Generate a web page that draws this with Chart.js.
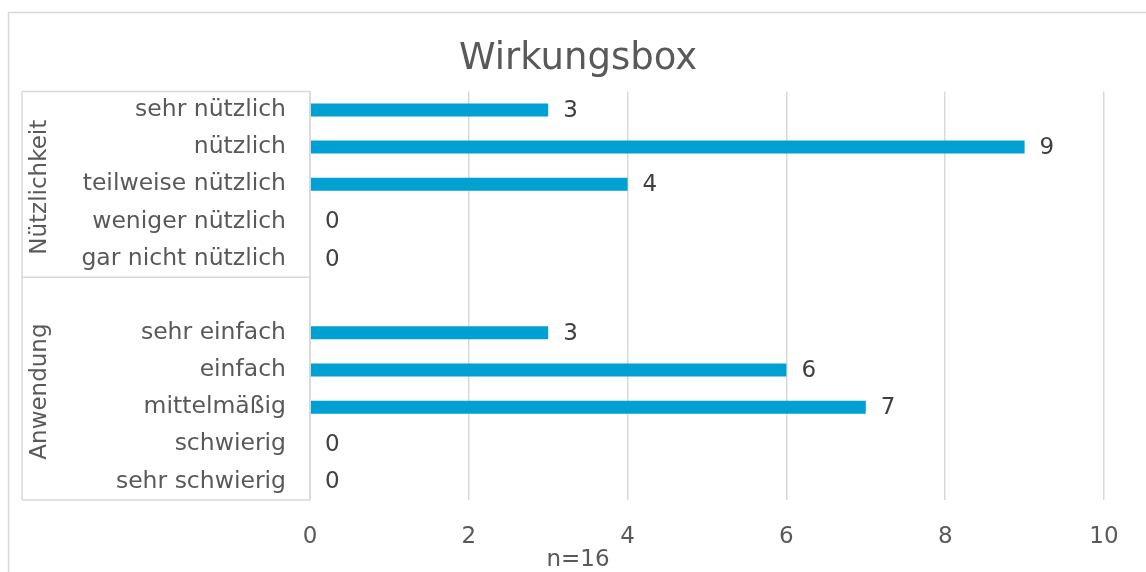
<!DOCTYPE html>
<html lang="de">
<head>
  <meta charset="UTF-8" />
  <title>Wirkungsbox</title>
  <script src="https://cdn.jsdelivr.net/npm/chart.js"></script>
  <style>
    html, body { margin: 0; padding: 0; background: #fff; }
    #wrap { width: 1146px; height: 572px; position: relative; }
  </style>
</head>
<body>
  <div id="wrap"><canvas id="chart" width="1146" height="572"></canvas></div>
  <script>
    // categories (blank entry = gap between the two groups)
    const categories = [
      "sehr nützlich", "nützlich", "teilweise nützlich", "weniger nützlich", "gar nicht nützlich",
      "",
      "sehr einfach", "einfach", "mittelmäßig", "schwierig", "sehr schwierig"
    ];
    const counts = [3, 9, 4, 0, 0, null, 3, 6, 7, 0, 0];
    const groups = [
      { name: "Nützlichkeit", from: 0, to: 4 },
      { name: "Anwendung", from: 5, to: 10 }
    ];
    const xTicks = [0, 2, 4, 6, 8, 10];

    const FONT = "'DejaVu Sans', Verdana, sans-serif";
    const GRID = "#d9d9d9";
    const TEXT = "#595959";
    const SIZE = 23;

    // outer frame, group boxes, rotated group names, value labels
    const frame = {
      id: "frame",
      afterLayout(chart) {
        // centre title and note on the whole frame, not on the padded area
        chart.boxes.forEach(b => {
          if (b.options && b.options.text !== undefined && b.position !== "left") {
            b.left = 10; b.right = chart.width; b.width = chart.width - 10;
          }
        });
      },
      beforeDraw(chart) {
        const c = chart.ctx;
        c.save();
        c.strokeStyle = GRID;
        c.lineWidth = 1.5;
        c.strokeRect(8.5, 12.5, 1300, 700);
        c.restore();
      },
      afterDraw(chart) {
        const c = chart.ctx, y = chart.scales.y, area = chart.chartArea;
        const left = 22, right = area.left;
        const mid = i => (y.getPixelForValue(i) + y.getPixelForValue(i - 1)) / 2;
        c.save();
        c.strokeStyle = GRID;
        c.lineWidth = 1.5;
        c.beginPath();
        c.moveTo(left, area.top); c.lineTo(right, area.top);
        c.moveTo(left, area.bottom); c.lineTo(right, area.bottom);
        c.moveTo(left, area.top); c.lineTo(left, area.bottom);
        c.moveTo(right, area.top); c.lineTo(right, area.bottom);
        groups.forEach((g, i) => {
          if (i === 0) return;
          c.moveTo(left, mid(g.from)); c.lineTo(right, mid(g.from));
        });
        c.stroke();

        c.fillStyle = TEXT;
        c.font = SIZE + "px " + FONT;
        c.textAlign = "center";
        c.textBaseline = "middle";
        groups.forEach((g, i) => {
          const top = i === 0 ? area.top : mid(g.from);
          const bot = i === groups.length - 1 ? area.bottom : mid(g.to + 1);
          c.save();
          c.translate(40, (top + bot) / 2 + 3);
          c.rotate(-Math.PI / 2);
          c.fillText(g.name, 0, 0);
          c.restore();
        });

        c.fillStyle = "#404040";
        c.textAlign = "left";
        chart.getDatasetMeta(0).data.forEach((bar, i) => {
          if (counts[i] === null) return;
          c.fillText(String(counts[i]), bar.x + 15, bar.y + 1);
        });
        c.restore();
      }
    };

    new Chart(document.getElementById("chart"), {
      type: "bar",
      data: {
        labels: categories,
        datasets: [{
          data: counts,
          backgroundColor: "#00a0d2",
          barPercentage: 0.35,
          categoryPercentage: 1
        }]
      },
      options: {
        indexAxis: "y",
        responsive: false,
        animation: false,
        layout: { padding: { left: 0, right: 42, top: 0, bottom: 0 } },
        plugins: {
          legend: { display: false },
          tooltip: { enabled: false },
          title: {
            display: true,
            text: "Wirkungsbox",
            color: TEXT,
            font: { family: FONT, size: 37, weight: "normal", lineHeight: 1.2 },
            padding: { top: 37, bottom: 10 }
          },
          subtitle: {
            display: true,
            position: "bottom",
            text: "n=16",
            color: TEXT,
            font: { family: FONT, size: SIZE, weight: "normal", lineHeight: 1 },
            padding: { top: 0, bottom: 0 }
          }
        },
        scales: {
          x: {
            min: 0,
            max: 10,
            afterBuildTicks: s => { s.ticks = xTicks.map(v => ({ value: v })); },
            afterFit: s => { s.height = 49; },
            grid: { color: GRID, lineWidth: 1.5, drawTicks: false },
            border: { display: false },
            ticks: { color: TEXT, padding: 23, font: { family: FONT, size: SIZE } }
          },
          y: {
            afterFit: s => { s.width = 310; },
            grid: { display: false, drawTicks: false },
            border: { display: false },
            ticks: { color: TEXT, padding: 24, autoSkip: false, font: { family: FONT, size: SIZE + 0.5 } }
          }
        }
      },
      plugins: [frame]
    });
  </script>
</body>
</html>
